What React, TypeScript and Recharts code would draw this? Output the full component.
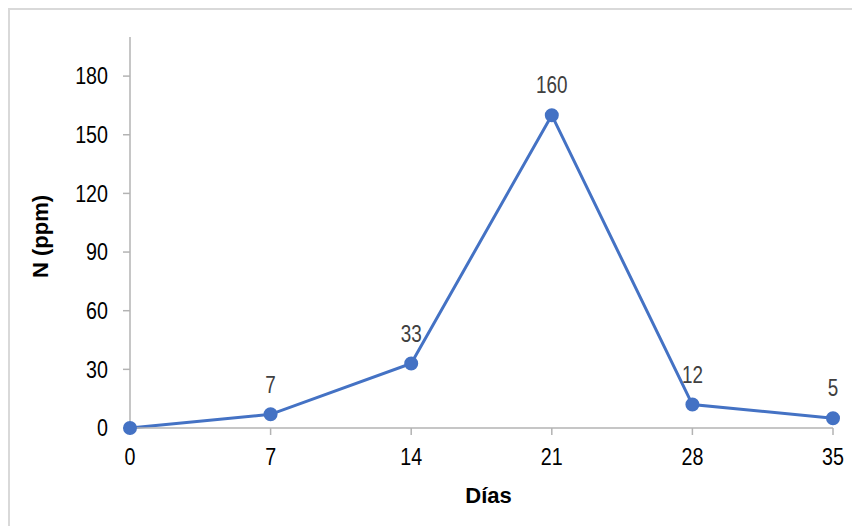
import { LineChart, Line, XAxis, YAxis, LabelList, Label } from "recharts";

const days = [0, 7, 14, 21, 28, 35];
const nitrogen = [0, 7, 33, 160, 12, 5];
const xTicks = [0, 7, 14, 21, 28, 35];
const yTicks = [0, 30, 60, 90, 120, 150, 180];

const data = days.map((d, i) => ({ dia: d, n: nitrogen[i] }));

const SANS = '"Liberation Sans", Arial, sans-serif';
const BLUE = "#4472C4";
const AXIS = "#b3b3b3";
// horizontal squeeze to get a narrow face out of Liberation Sans
const NARROW_X = 0.82;

function NarrowText({ x, y, anchor, baseline, size, fill, children }: any) {
  return (
    <g transform={`translate(${x},${y}) scale(${NARROW_X},1)`}>
      <text
        x={0}
        y={0}
        textAnchor={anchor}
        dominantBaseline={baseline}
        fontSize={size}
        fontFamily={SANS}
        fill={fill}
      >
        {children}
      </text>
    </g>
  );
}

function XTick(props: any) {
  const { x, y, payload } = props;
  return (
    <NarrowText x={x} y={y + 9} anchor="middle" baseline="central" size={24} fill="#000">
      {payload.value}
    </NarrowText>
  );
}

function YTick(props: any) {
  const { x, y, payload } = props;
  return (
    <NarrowText x={x} y={y} anchor="end" baseline="central" size={24} fill="#000">
      {payload.value}
    </NarrowText>
  );
}

function ValueLabel(props: any) {
  const { x, y, value } = props;
  if (!value) return null;
  return (
    <NarrowText x={x} y={y - 30} anchor="middle" baseline="central" size={23} fill="#404040">
      {value}
    </NarrowText>
  );
}

function YTitle(props: any) {
  const { viewBox } = props;
  const cx = 30;
  const cy = viewBox.y + viewBox.height / 2 + 4;
  return (
    <text
      x={cx}
      y={cy}
      transform={`rotate(-90 ${cx} ${cy})`}
      textAnchor="middle"
      dominantBaseline="central"
      fontSize={22}
      fontWeight="bold"
      fontFamily={SANS}
      fill="#000"
    >
      N (ppm)
    </text>
  );
}

function XTitle(props: any) {
  const { viewBox } = props;
  return (
    <text
      x={viewBox.x + viewBox.width / 2 + 7}
      y={493}
      textAnchor="middle"
      fontSize={22}
      fontWeight="bold"
      fontFamily={SANS}
      fill="#000"
    >
      Días
    </text>
  );
}

export default function App() {
  return (
    <div
      style={{
        width: 852,
        height: 518,
        borderTop: "2px solid #d9d9d9",
        borderLeft: "2px solid #d9d9d9",
        background: "#fff",
      }}
    >
      <LineChart
        width={850}
        height={516}
        data={data}
        margin={{ top: 27, right: 27, left: 0, bottom: 0 }}
      >
        <XAxis
          dataKey="dia"
          type="number"
          domain={[0, 35]}
          ticks={xTicks}
          height={98}
          stroke={AXIS}
          strokeWidth={1.5}
          tickSize={7}
          tickMargin={13}
          tick={<XTick />}
        >
          <Label content={<XTitle />} />
        </XAxis>
        <YAxis
          type="number"
          domain={[0, 200]}
          ticks={yTicks}
          width={120}
          stroke={AXIS}
          strokeWidth={1.5}
          tickSize={7}
          tickMargin={15}
          tick={<YTick />}
        >
          <Label content={<YTitle />} />
        </YAxis>
        <Line
          type="linear"
          dataKey="n"
          stroke={BLUE}
          strokeWidth={3}
          dot={{ r: 6, fill: BLUE, stroke: BLUE, strokeWidth: 2 }}
          activeDot={false}
          isAnimationActive={false}
        >
          <LabelList dataKey="n" content={<ValueLabel />} />
        </Line>
      </LineChart>
    </div>
  );
}
